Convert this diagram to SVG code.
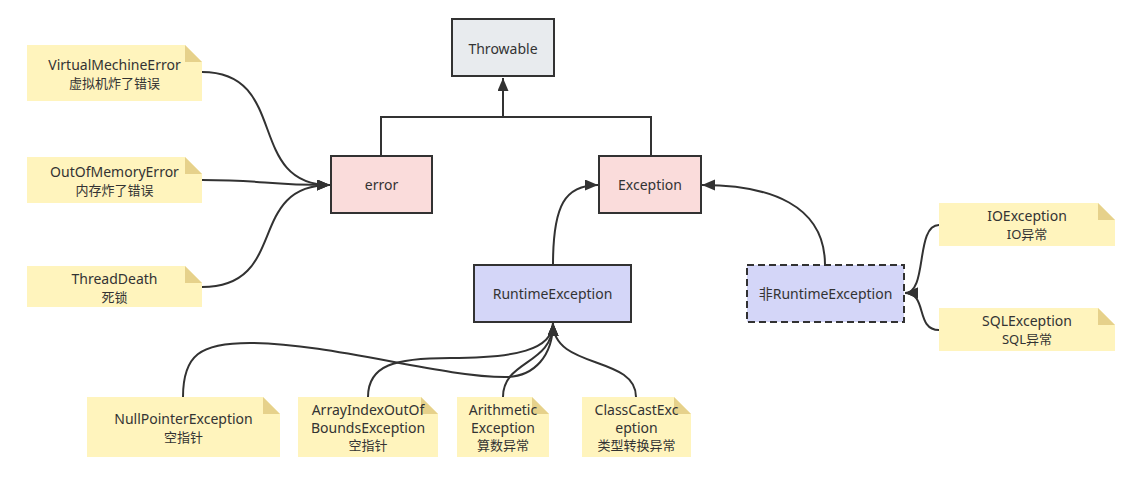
<svg xmlns="http://www.w3.org/2000/svg" width="1130" height="477" viewBox="0 0 1130 477">
<style>
  .box { stroke: #323232; stroke-width: 2; }
  .t { font-family: "Noto Sans", "Noto Sans CJK SC", sans-serif; font-size: 14px; fill: #333; text-anchor: middle; }
  .c { font-size: 13px; }
  .note { fill: #fff4bd; }
  .fold { fill: #e6d18b; }
  .con { fill: none; stroke: #323232; stroke-width: 2; }
</style>
<defs>
  <marker id="arr" markerUnits="userSpaceOnUse" markerWidth="14" markerHeight="12" refX="13" refY="5.5" orient="auto">
    <path d="M0,0 L13,5.5 L0,11 z" fill="#323232"/>
  </marker>
</defs>
<rect width="1130" height="477" fill="#fff"/>

<g id="connectors">
  <path class="con" d="M381,156 V117 H651 V156"/>
  <path class="con" d="M503,117 V78" marker-end="url(#arr)"/>
  <path class="con" d="M202,72 C290,72 245,185 330,185" marker-end="url(#arr)"/>
  <path class="con" d="M202,180 C270,180 260,185 330,185" marker-end="url(#arr)"/>
  <path class="con" d="M202,287 C290,287 245,185 330,185" marker-end="url(#arr)"/>
  <path class="con" d="M553,265 C553,205 565,185 598,185" marker-end="url(#arr)"/>
  <path class="con" d="M825,265 C825,205 770,185 702,185" marker-end="url(#arr)"/>
  <path class="con" d="M939,225 C915,225 928,293 905,293" marker-end="url(#arr)"/>
  <path class="con" d="M939,330 C915,330 928,293 905,293" marker-end="url(#arr)"/>
  <path class="con" d="M183,397 C183,355 200,343 250,343 C330,343 440,377 505,377 C535,377 553,355 553,323" marker-end="url(#arr)"/>
  <path class="con" d="M368,397 C368,365 395,358 450,358 C515,358 553,350 553,323" marker-end="url(#arr)"/>
  <path class="con" d="M503,397 C503,360 553,365 553,323" marker-end="url(#arr)"/>
  <path class="con" d="M636,397 C636,355 553,370 553,323" marker-end="url(#arr)"/>
</g>

<g id="throwable">
  <rect class="box" x="452" y="19" width="102" height="57" fill="#e8ebee"/>
  <text class="t" x="503" y="54">Throwable</text>
</g>
<g id="error">
  <rect class="box" x="331" y="156" width="101" height="57" fill="#fadcdb"/>
  <text class="t" x="381.5" y="190">error</text>
</g>
<g id="exception">
  <rect class="box" x="599" y="156" width="102" height="57" fill="#fadcdb"/>
  <text class="t" x="650" y="190">Exception</text>
</g>
<g id="runtime">
  <rect class="box" x="474" y="265" width="157" height="57" fill="#d4d6f8"/>
  <text class="t" x="552.5" y="299">RuntimeException</text>
</g>
<g id="nonruntime">
  <rect class="box" x="747" y="265" width="157" height="57" fill="#d4d6f8" stroke-dasharray="7,4"/>
  <text class="t" x="825.5" y="299">非RuntimeException</text>
</g>

<g id="n-vm">
  <path class="note" d="M27,45 H185 L202,62 V101 H27 Z"/>
  <path class="fold" d="M185,45 V62 H202 Z"/>
  <text class="t" x="114.5" y="70">VirtualMechineError</text>
  <text class="t c" x="114.5" y="88">虚拟机炸了错误</text>
</g>
<g id="n-oom">
  <path class="note" d="M27,157 H185 L202,174 V203 H27 Z"/>
  <path class="fold" d="M185,157 V174 H202 Z"/>
  <text class="t" x="114.5" y="177">OutOfMemoryError</text>
  <text class="t c" x="114.5" y="195">内存炸了错误</text>
</g>
<g id="n-td">
  <path class="note" d="M27,266 H185 L202,283 V307 H27 Z"/>
  <path class="fold" d="M185,266 V283 H202 Z"/>
  <text class="t" x="114.5" y="284">ThreadDeath</text>
  <text class="t c" x="114.5" y="302">死锁</text>
</g>
<g id="n-io">
  <path class="note" d="M939,203 H1098 L1115,220 V246 H939 Z"/>
  <path class="fold" d="M1098,203 V220 H1115 Z"/>
  <text class="t" x="1027" y="221">IOException</text>
  <text class="t c" x="1027" y="239">IO异常</text>
</g>
<g id="n-sql">
  <path class="note" d="M939,308 H1098 L1115,325 V351 H939 Z"/>
  <path class="fold" d="M1098,308 V325 H1115 Z"/>
  <text class="t" x="1027" y="326">SQLException</text>
  <text class="t c" x="1027" y="344">SQL异常</text>
</g>
<g id="n-npe">
  <path class="note" d="M87,397 H263 L280,414 V457 H87 Z"/>
  <path class="fold" d="M263,397 V414 H280 Z"/>
  <text class="t" x="183.5" y="424">NullPointerException</text>
  <text class="t c" x="183.5" y="442">空指针</text>
</g>
<g id="n-aioobe">
  <path class="note" d="M298,397 H421 L438,414 V457 H298 Z"/>
  <path class="fold" d="M421,397 V414 H438 Z"/>
  <text class="t" x="368" y="415">ArrayIndexOutOf</text>
  <text class="t" x="368" y="433">BoundsException</text>
  <text class="t c" x="368" y="450">空指针</text>
</g>
<g id="n-arith">
  <path class="note" d="M457,397 H532 L549,414 V457 H457 Z"/>
  <path class="fold" d="M532,397 V414 H549 Z"/>
  <text class="t" x="503" y="415">Arithmetic</text>
  <text class="t" x="503" y="433">Exception</text>
  <text class="t c" x="503" y="450">算数异常</text>
</g>
<g id="n-cce">
  <path class="note" d="M582,397 H674 L691,414 V457 H582 Z"/>
  <path class="fold" d="M674,397 V414 H691 Z"/>
  <text class="t" x="636.5" y="415">ClassCastExc</text>
  <text class="t" x="636.5" y="433">eption</text>
  <text class="t c" x="636.5" y="450">类型转换异常</text>
</g>
</svg>
